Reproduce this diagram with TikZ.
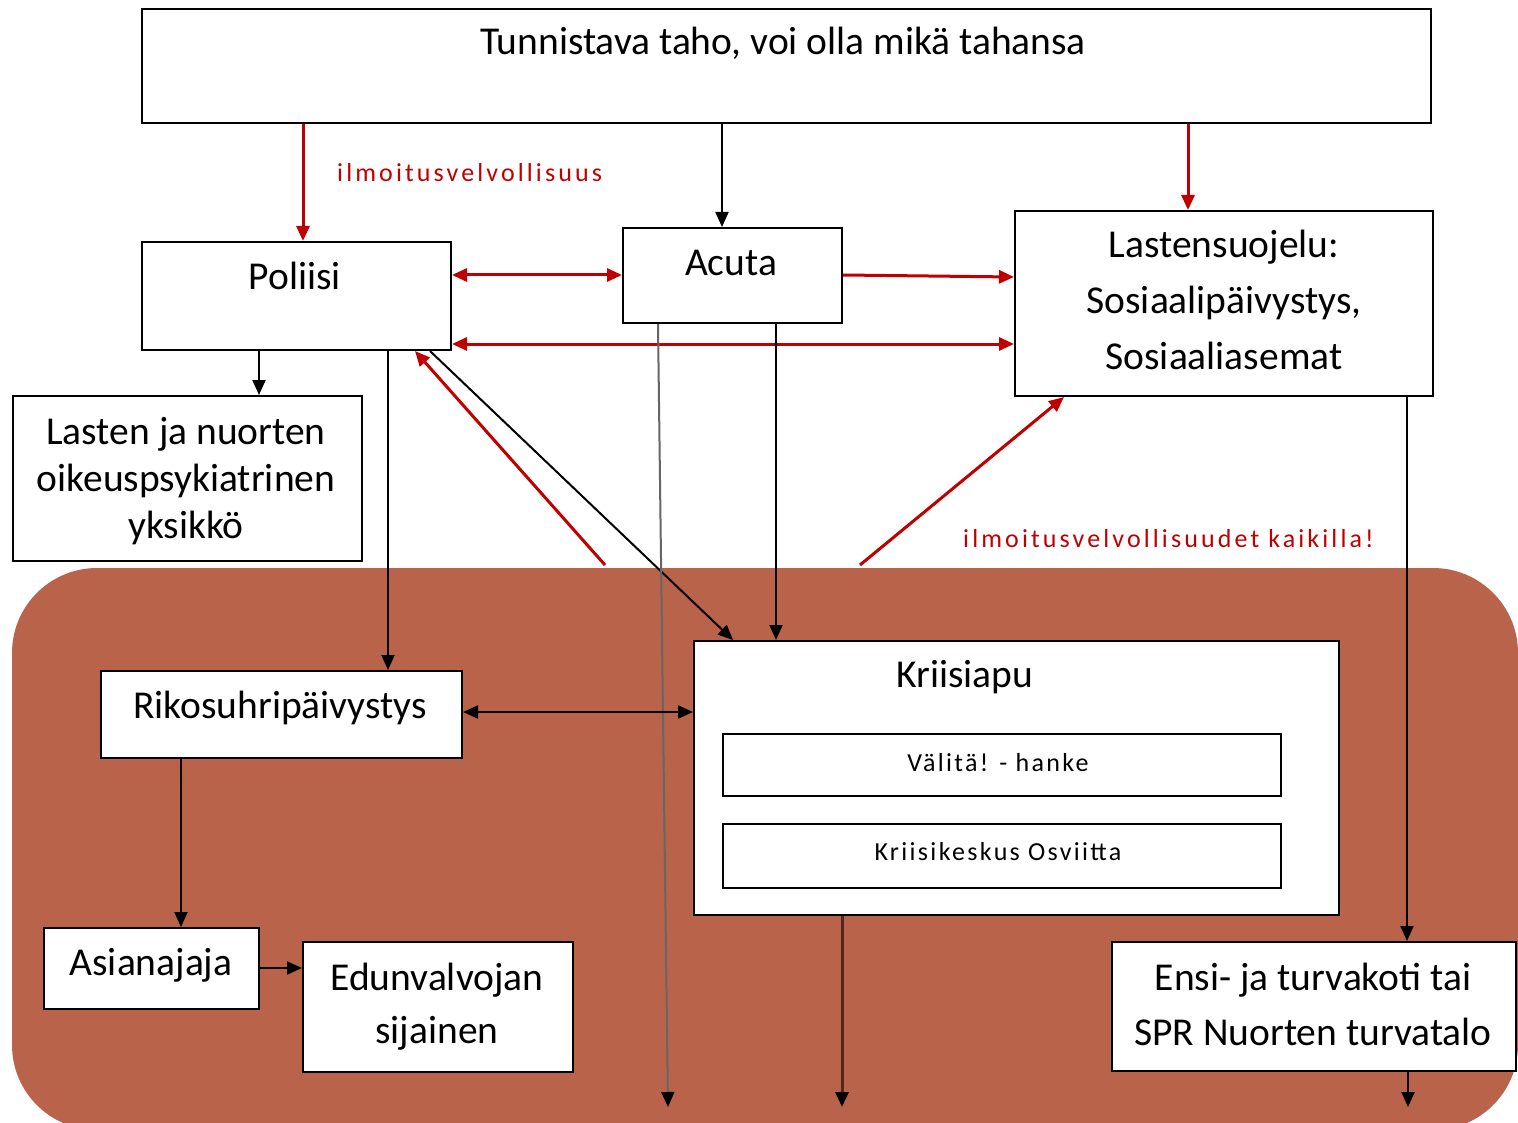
\documentclass[tikz,border=0pt]{standalone}
\usepackage{fontspec}
\setmainfont{Carlito}
\newfontfamily\harvafont{Carlito}[LetterSpace=12]
\newfontfamily\pienifont{Carlito}[LetterSpace=9]
\usepackage{xcolor}
\usetikzlibrary{positioning,arrows.meta}

\definecolor{ilmred}{RGB}{192,0,0}
\definecolor{tausta}{RGB}{185,99,74}
\definecolor{tummaviiva}{RGB}{80,40,28}

\tikzset{
  laatikko/.style={draw, fill=white, line width=2pt, inner sep=0pt, anchor=north west},
  teksti/.style={inner sep=0pt, font=\fontsize{39.5}{47}\selectfont},
  pieni/.style={inner sep=0pt, font=\pienifont\fontsize{26}{30}\selectfont},
  punateksti/.style={inner sep=0pt, text=ilmred, font=\harvafont\fontsize{26}{30}\selectfont},
  musta/.style={draw=black, line width=2pt},
  punainen/.style={draw=ilmred, line width=3pt},
  mustakarki/.style={-{Triangle[length=15pt,width=13pt,black]}},
}

\begin{document}
\begin{tikzpicture}[x=1pt, y=-1pt, >={Triangle[length=15pt,width=13pt]}]
    \useasboundingbox (0,0) rectangle (1518,1123);
    \fill[white] (0,0) rectangle (1518,1123);
    % tausta
    \begin{scope}
        \clip (0,0) rectangle (1518,1123);
        \fill[tausta, rounded corners=85pt] (12,568) rectangle (1518,1130);
    \end{scope}

    % laatikot
    \node[laatikko, minimum width=1289pt, minimum height=114pt] (tunnistava) at (141,8) {};
    \node[laatikko, minimum width=309pt, minimum height=108pt] (poliisi) at (141,241) {};
    \node[laatikko, minimum width=219pt, minimum height=95pt] (acuta) at (622,227) {};
    \node[laatikko, minimum width=418pt, minimum height=185pt] (lastensuojelu) at (1014,210) {};
    \node[laatikko, minimum width=349pt, minimum height=165pt] (oikeuspsyk) at (12,395) {};
    \node[laatikko, minimum width=361pt, minimum height=87pt] (rikosuhri) at (100,670) {};
    \node[laatikko, minimum width=645pt, minimum height=274pt] (kriisiapu) at (693,640) {};
    \node[laatikko, minimum width=558pt, minimum height=62pt] (valita) at (722,733) {};
    \node[laatikko, minimum width=558pt, minimum height=64pt] (osviitta) at (722,823) {};
    \node[laatikko, minimum width=215pt, minimum height=81pt] (asianajaja) at (43,927) {};
    \node[laatikko, minimum width=270pt, minimum height=130pt] (edunvalvoja) at (302,941) {};
    \node[laatikko, minimum width=404pt, minimum height=129pt] (ensikoti) at (1111,941) {};

    % tekstit
    \node[teksti, anchor=base] (tunnistava-t) at (783,55) {Tunnistava taho, voi olla mikä tahansa};
    \node[teksti, anchor=base] (poliisi-t) at (295,290) {Poliisi};
    \node[teksti, anchor=base] (acuta-t) at (731,276) {Acuta};
    \node[teksti, align=center, font=\fontsize{39.5}{56}\selectfont] (lastensuojelu-t) at (1224,300) {Lastensuojelu:\\Sosiaalipäivystys,\\Sosiaaliasemat};
    \node[teksti, align=center, font=\fontsize{39.5}{47}\selectfont] (oikeuspsyk-t) at (186,481) {Lasten ja nuorten\\oikeuspsykiatrinen\\yksikkö};
    \node[teksti, anchor=base] (rikosuhri-t) at (280,718) {Rikosuhripäivystys};
    \node[teksti, anchor=base] (kriisiapu-t) at (965,687) {Kriisiapu};
    \node[pieni, anchor=base] (valita-t) at (998,771) {Välitä! - hanke};
    \node[pieni, anchor=base] (osviitta-t) at (998,860) {Kriisikeskus Osviitta};
    \node[teksti, anchor=base] (asianajaja-t) at (151,975) {Asianajaja};
    \node[teksti, align=center, font=\fontsize{39.5}{53}\selectfont] (edunvalvoja-t) at (437,1007) {Edunvalvojan\\sijainen};
    \node[teksti, align=center, font=\fontsize{39.5}{55}\selectfont] (ensikoti-t) at (1313,1004) {Ensi- ja turvakoti tai\\SPR Nuorten turvatalo};

    \node[punateksti, anchor=base west] (ilmoitus) at (337,182) {ilmoitusvelvollisuus};
    \node[punateksti, anchor=base west] (ilmoitukset) at (963,547) {ilmoitusvelvollisuudet kaikilla!};

    % vapaat päät
    \coordinate (vasenpuna) at (605,565);
    \coordinate (oikeapuna) at (860,565);
    \coordinate (acutaloppu) at (668,1107);
    \coordinate (kriisiloppu) at (842,1107);
    \coordinate (ensiloppu) at (1408,1107);

    % nuolet
    \draw[punainen, ->] (tunnistava.south -| 303,0) -- (poliisi.north -| 303,0);
    \draw[musta, ->] (tunnistava.south -| 722,0) -- (acuta.north -| 722,0);
    \draw[punainen, ->] (tunnistava.south -| 1188,0) -- (lastensuojelu.north -| 1188,0);
    \draw[punainen, <->] (poliisi.east |- 0,275) -- (acuta.west |- 0,275);
    \draw[punainen, ->] (acuta.east |- 0,275) -- (lastensuojelu.west |- 0,277);
    \draw[punainen, <->] (poliisi.east |- 0,344) -- (lastensuojelu.west |- 0,344);
    \draw[musta, ->] (poliisi.south -| 259,0) -- (oikeuspsyk.north -| 259,0);
    \draw[musta, ->] (poliisi.south -| 388,0) -- (rikosuhri.north -| 388,0);
    \draw[punainen, ->] (vasenpuna) -- (poliisi.south -| 415,0);
    \draw[musta, ->] (poliisi.south -| 430,0) -- (kriisiapu.north -| 733,0);
    \draw[draw=black!60, line width=2pt, mustakarki] (acuta.south -| 658,0) -- (acutaloppu);
    \draw[musta, ->] (acuta.south -| 776,0) -- (kriisiapu.north -| 776,0);
    \draw[punainen, ->] (oikeapuna) -- (lastensuojelu.south -| 1064,0);
    \draw[musta, ->] (lastensuojelu.south -| 1407,0) -- (ensikoti.north -| 1407,0);
    \draw[musta, <->] (rikosuhri.east |- 0,712) -- (kriisiapu.west |- 0,712);
    \draw[musta, ->] (rikosuhri.south -| 181,0) -- (asianajaja.north -| 181,0);
    \draw[musta, ->] (asianajaja.east |- 0,968) -- (edunvalvoja.west |- 0,968);
    \draw[draw=tummaviiva, line width=3pt, mustakarki] (kriisiapu.south -| 842,0) -- (kriisiloppu);
    \draw[musta, ->] (ensikoti.south -| 1408,0) -- (ensiloppu);
\end{tikzpicture}
\end{document}
